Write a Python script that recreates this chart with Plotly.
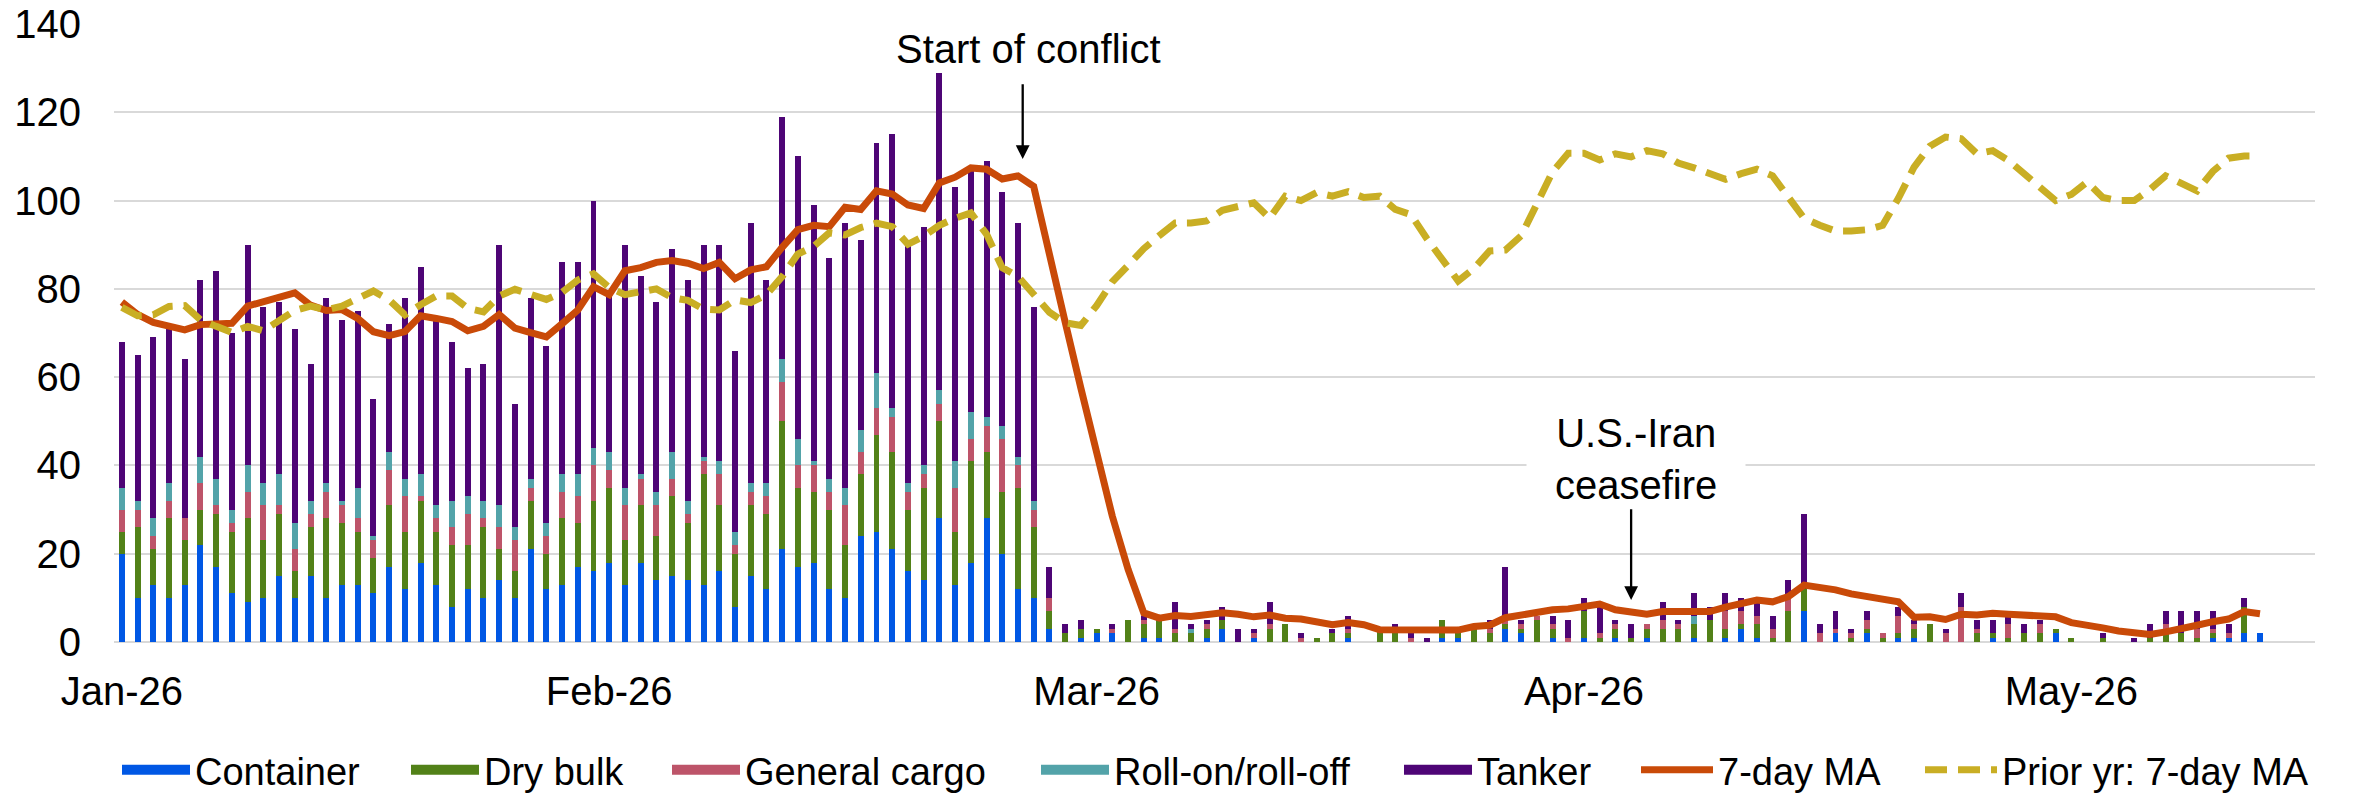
import pandas as pd
import plotly.graph_objects as go

# ---------------- data ----------------
dates = pd.date_range("2026-01-01", "2026-05-17", freq="D").strftime("%Y-%m-%d").tolist()

container = [20, 10, 13, 10, 13, 22, 17, 11, 9, 10, 15, 10, 15, 10, 13, 13, 11, 17, 12, 18, 13, 8, 12, 10, 14, 10, 21, 12, 13, 17, 16,
             18, 13, 18, 14, 15, 14, 13, 16, 8, 15, 12, 21, 17, 18, 12, 10, 24, 25, 21, 16, 14, 28, 13, 18, 28, 20, 12, 10,
             3, 0, 1, 2, 2, 0, 1, 1, 0, 0, 1, 3, 0, 1, 0, 0, 0, 0, 0, 1, 0, 0, 0, 0, 0, 1, 1, 0, 0, 3, 2,
             0, 1, 0, 1, 0, 1, 0, 1, 0, 0, 1, 0, 1, 3, 1, 0, 0, 7, 0, 2, 0, 2, 0, 1, 1, 0, 0, 0, 0, 1,
             0, 0, 0, 2, 0, 0, 0, 0, 0, 0, 0, 0, 0, 1, 1, 2, 2]

dry_bulk = [5, 16, 8, 18, 10, 8, 12, 14, 19, 13, 14, 6, 11, 18, 14, 12, 8, 14, 13, 14, 12, 14, 10, 16, 7, 6, 11, 8, 15, 10, 16,
            17, 10, 13, 10, 18, 13, 25, 15, 12, 16, 17, 29, 18, 16, 18, 12, 14, 22, 22, 14, 21, 22, 12, 23, 15, 14, 23, 16,
            4, 2, 2, 1, 0, 5, 3, 4, 2, 2, 2, 2, 0, 0, 3, 4, 0, 1, 2, 1, 0, 3, 3, 0, 0, 4, 2, 3, 2, 1, 1,
            5, 2, 0, 6, 1, 2, 1, 2, 3, 3, 3, 5, 2, 1, 3, 1, 7, 5, 0, 0, 1, 1, 1, 1, 2, 4, 0, 0, 2, 1,
            1, 2, 2, 1, 1, 0, 1, 0, 0, 1, 2, 2, 1, 1, 0, 6, 0]

general_cargo = [5, 4, 3, 4, 5, 6, 2, 2, 6, 8, 2, 5, 3, 6, 4, 3, 4, 8, 8, 1, 3, 4, 7, 2, 5, 7, 3, 4, 6, 6, 8,
                 4, 8, 6, 7, 4, 2, 3, 7, 2, 3, 4, 9, 5, 6, 4, 9, 5, 6, 8, 4, 3, 4, 10, 5, 6, 12, 5, 4,
                 3, 0, 0, 0, 1, 0, 1, 0, 1, 0, 1, 0, 0, 1, 1, 0, 1, 0, 0, 1, 0, 0, 0, 1, 0, 0, 0, 0, 1, 1, 1,
                 1, 1, 1, 0, 1, 1, 0, 1, 2, 1, 0, 0, 4, 3, 2, 2, 3, 0, 2, 1, 1, 2, 1, 4, 1, 0, 2, 8, 1, 0,
                 3, 0, 2, 0, 0, 0, 0, 0, 0, 0, 2, 0, 2, 1, 1, 0, 0]

roll_on_roll_off = [5, 2, 4, 4, 0, 6, 6, 3, 6, 5, 7, 6, 3, 2, 1, 7, 1, 4, 4, 5, 3, 6, 4, 4, 5, 3, 2, 3, 4, 5, 4,
                    4, 4, 1, 3, 6, 3, 1, 3, 3, 2, 3, 5, 6, 1, 3, 4, 5, 8, 2, 2, 2, 3, 6, 6, 2, 3, 2, 2,
                    0, 0, 0, 0, 0, 0, 0, 0, 0, 1, 0, 0, 0, 0, 0, 0, 0, 0, 0, 0, 0, 0, 0, 0, 0, 0, 0, 0, 0, 0, 0,
                    0, 0, 0, 0, 0, 0, 0, 0, 0, 0, 2, 0, 0, 0, 0, 0, 0, 0, 0, 0, 0, 0, 0, 0, 0, 0, 0, 0, 0, 0,
                    0, 0, 0, 0, 0, 0, 0, 0, 0, 0, 0, 0, 0, 0, 0, 0, 0]

tanker = [33, 33, 41, 35, 36, 40, 47, 40, 50, 40, 39, 44, 31, 42, 41, 40, 31, 29, 41, 47, 42, 36, 29, 31, 59, 28, 41, 40, 48, 48, 56,
          36, 55, 45, 43, 46, 50, 48, 49, 41, 59, 46, 55, 64, 58, 50, 60, 43, 52, 62, 54, 54, 72, 62, 55, 58, 53, 53, 44,
          7, 2, 2, 0, 1, 0, 1, 0, 6, 1, 1, 3, 3, 1, 5, 0, 1, 0, 1, 3, 0, 0, 1, 1, 1, 0, 0, 0, 2, 12, 1,
          0, 2, 4, 3, 7, 1, 3, 0, 4, 1, 5, 3, 4, 3, 3, 3, 4, 17, 2, 4, 1, 2, 0, 2, 1, 0, 1, 3, 2, 3,
          2, 2, 1, 0, 0, 0, 1, 0, 1, 3, 3, 5, 4, 4, 2, 2, 0]

ma_7day = [77.0, 74.2, 72.4, 71.7, 70.7, 71.9, 71.9, 72.2, 76.1, 77.1, 77.9, 79.1, 76.3, 75.1, 75.3, 73.3, 70.3, 69.4, 70.3, 73.9,
           73.3, 72.6, 70.5, 71.5, 74.2, 71.1, 70.1, 69.1, 72.1, 75.2, 80.5,
           78.7, 84.1, 84.8, 86.0, 86.4, 85.8, 84.6, 86.0, 82.3, 84.3, 85.0, 89.4, 93.4, 94.4, 94.1, 98.5, 98.0, 102.2, 101.5, 99.0,
           98.2, 104.0, 105.3, 107.4, 107.1, 104.9, 105.6, 103.2,
           87.3, 72.5, 57.5, 42.5, 28.5, 16.5, 6.6, 5.4, 6.0, 5.8, 6.0, 6.6, 6.3, 5.7, 6.1, 5.4, 5.2, 4.7, 3.9, 4.4,
           3.9, 2.8, 2.8, 2.8, 2.8, 3.0, 2.7, 3.5, 3.8, 5.5, 6.2,
           6.9, 7.3, 7.5, 8.2, 8.6, 7.3, 6.8, 6.3, 6.9, 6.9, 7.0, 6.9, 7.9, 8.8, 9.5, 9.1, 10.3, 12.9, 12.4, 11.8,
           10.9, 10.4, 9.9, 9.1, 5.6, 5.7, 5.1, 6.3, 6.1, 6.5,
           6.3, 6.0, 6.0, 5.7, 4.4, 3.6, 3.2, 2.5, 2.0, 1.7, 2.3, 2.9, 3.8, 4.6, 5.2, 6.9, 6.4]

prior_yr_ma_7day = [75.8, 73.9, 74.1, 76.0, 76.2, 73.0, 71.5, 70.1, 71.5, 70.5, 72.8, 75.1, 76.1, 75.2, 76.1, 77.9, 79.5, 77.5, 74.1, 76.4,
                    78.4, 78.4, 75.6, 74.8, 78.4, 79.9, 78.8, 77.6, 79.2, 82.0, 83.4,
                    80.3, 78.7, 79.3, 80.0, 78.0, 77.4, 75.4, 75.2, 77.5, 76.9, 78.7, 82.8, 87.9, 89.6, 92.7, 92.2, 93.9, 94.9, 94.1, 90.1,
                    91.9, 94.4, 96.0, 97.2, 92.4, 84.8, 82.8, 78.5,
                    74.7, 72.3, 71.7, 76.2, 81.6, 85.3, 89.1, 92.1, 94.9, 94.9, 95.4, 97.8, 98.5, 99.5, 96.0, 101.0, 100.0, 101.8, 101.0, 102.0,
                    100.7, 101.0, 98.0, 96.8, 91.4, 86.3, 81.8, 84.6, 88.6, 88.8, 92.0,
                    99.2, 106.5, 110.7, 110.7, 109.2, 110.6, 109.9, 111.3, 110.6, 108.5, 107.4, 106.1, 104.8, 106.1, 107.1, 105.6, 100.5, 96.0, 94.4, 93.1,
                    93.1, 93.4, 94.4, 100.5, 107.6, 112.3, 114.4, 114.0, 110.6, 111.3,
                    109.1, 106.2, 102.9, 100.0, 101.4, 104.2, 100.7, 100.0, 100.0, 102.5, 105.6, 104.0, 102.2, 106.6, 109.6, 110.1, 110.1]

tick_index = [0, 31, 62, 93, 124]
tick_labels = ["Jan-26", "Feb-26", "Mar-26", "Apr-26", "May-26"]

# ---------------- style ----------------
W, H = 2356, 797
ML, MR, MT, MB = 114, 41, 24, 155
PW, PH = W - ML - MR, H - MT - MB
FONT = "Arial, 'Liberation Sans', sans-serif"
FS = 40
LEG_FS = 38

bar_series = [
    ("Container", container, "#0057E4"),
    ("Dry bulk", dry_bulk, "#528118"),
    ("General cargo", general_cargo, "#BD5469"),
    ("Roll-on/roll-off", roll_on_roll_off, "#53A3A9"),
    ("Tanker", tanker, "#4E0576"),
]
MA_COLOR = "#C94A08"
PRIOR_COLOR = "#C9AE24"

legend_px = [122, 411, 672, 1041, 1404, 1641, 1925]
legend_itemwidth = [68, 68, 68, 68, 68, 72, 72]

fig = go.Figure()

for i, (name, vals, color) in enumerate(bar_series):
    lg = "legend" if i == 0 else f"legend{i + 1}"
    fig.add_trace(go.Bar(x=dates, y=vals, name=name, marker=dict(color=color, line=dict(width=0)),
                         legendgroup=name, showlegend=False, hoverinfo="skip"))
    fig.add_trace(go.Scatter(x=[None], y=[None], mode="lines", name=name, legend=lg, legendgroup=name,
                             line=dict(color=color, width=10), showlegend=True, hoverinfo="skip"))

fig.add_trace(go.Scatter(x=dates, y=ma_7day, mode="lines", name="7-day MA", legend="legend6",
                         line=dict(color=MA_COLOR, width=7), hoverinfo="skip"))
fig.add_trace(go.Scatter(x=dates, y=prior_yr_ma_7day, mode="lines", name="Prior yr: 7-day MA", legend="legend7",
                         line=dict(color=PRIOR_COLOR, width=7, dash="22px,11px"), hoverinfo="skip"))

legends = {}
for i, (px, iw) in enumerate(zip(legend_px, legend_itemwidth)):
    key = "legend" if i == 0 else f"legend{i + 1}"
    legends[key] = dict(x=(px - 5 - ML) / PW, xanchor="left", y=(PH + MT - 770) / PH, yanchor="middle",
                        orientation="h", itemwidth=iw, bgcolor="rgba(0,0,0,0)", borderwidth=0,
                        font=dict(family=FONT, size=LEG_FS, color="black"))

fig.update_layout(
    width=W, height=H,
    margin=dict(l=ML, r=MR, t=MT, b=MB, pad=0, autoexpand=False),
    paper_bgcolor="white", plot_bgcolor="white",
    barmode="stack", bargap=0.62,
    font=dict(family=FONT, size=FS, color="black"),
    hovermode=False,
    xaxis=dict(type="category", range=[-0.5, 139.5], tickmode="array",
               tickvals=[dates[i] for i in tick_index], ticktext=tick_labels,
               showgrid=False, showline=False, zeroline=False, ticks="", automargin=False,
               tickfont=dict(family=FONT, size=FS, color="black"), ticklabelstandoff=22),
    yaxis=dict(range=[0, 140], dtick=20, tick0=0, showgrid=True, gridcolor="#D9D9D9", gridwidth=1.6,
               zeroline=True, zerolinecolor="#D9D9D9", zerolinewidth=1.6, showline=False, ticks="", automargin=False,
               tickfont=dict(family=FONT, size=FS, color="black"), ticklabelstandoff=32),
    annotations=[
        dict(x=57.66, y=134.4, xref="x", yref="y", text="Start of conflict", showarrow=False,
             font=dict(family=FONT, size=FS, color="black"), xanchor="center", yanchor="middle"),
        dict(x=57.3, y=109.4, ax=57.3, ay=126.7, xref="x", yref="y", axref="x", ayref="y", text="",
             showarrow=True, arrowhead=2, arrowsize=1.2, arrowwidth=2.3, arrowcolor="black"),
        dict(x=96.3, y=41.5, xref="x", yref="y", text="U.S.-Iran<br>ceasefire", showarrow=False,
             font=dict(family=FONT, size=FS, color="black"), xanchor="center", yanchor="middle",
             bgcolor="white", borderpad=28),
        dict(x=96.0, y=9.5, ax=96.0, ay=30.4, xref="x", yref="y", axref="x", ayref="y", text="",
             showarrow=True, arrowhead=2, arrowsize=1.2, arrowwidth=2.3, arrowcolor="black"),
    ],
    **legends,
)

fig.write_html("out.html", config={"displayModeBar": False},
               post_script="document.body.style.margin='0';document.body.style.overflow='hidden';")
